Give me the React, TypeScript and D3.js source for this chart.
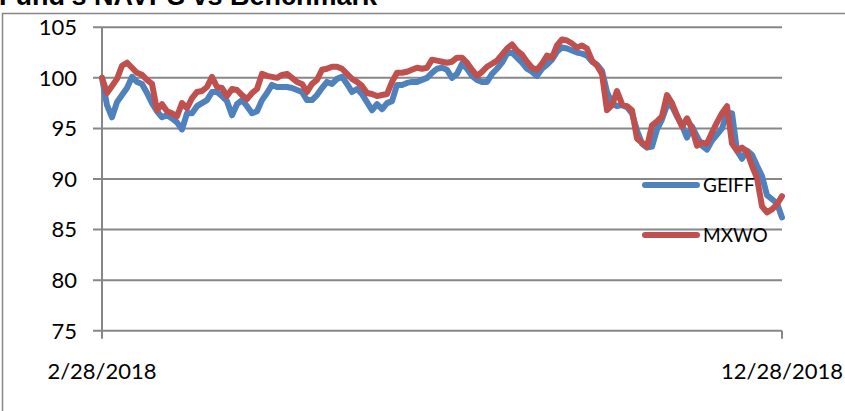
import * as d3 from 'd3'

// GEIFF NAVPS vs MXWO benchmark, rebased to 100 on 2/28/2018
const geiff = [
  100.0, 97.3, 96.1, 97.6, 98.3, 99.0, 100.1, 99.6, 99.4, 98.5,
  97.5, 96.7, 96.1, 96.3, 96.0, 95.6, 94.9, 96.5, 96.5, 97.2,
  97.5, 97.8, 98.6, 98.6, 98.2, 97.7, 96.3, 97.4, 97.8, 97.2,
  96.5, 96.7, 97.8, 98.5, 99.3, 99.1, 99.1, 99.1, 99.0, 98.8,
  98.6, 97.8, 97.8, 98.3, 99.0, 99.6, 99.4, 99.9, 100.1, 99.4,
  98.6, 98.9, 98.4, 97.6, 96.8, 97.4, 96.9, 97.5, 97.7, 99.3,
  99.3, 99.5, 99.6, 99.6, 99.8, 100.0, 100.5, 100.9, 101.0, 100.8,
  100.0, 100.4, 101.4, 100.9, 100.2, 99.8, 99.6, 99.6, 100.4, 100.9,
  101.5, 102.4, 102.5, 102.0, 101.5, 100.9, 100.6, 100.2, 100.9, 101.3,
  101.8, 102.6, 103.0, 102.9, 102.7, 102.5, 102.4, 102.2, 101.6, 101.3,
  100.7, 98.6, 97.5, 97.2, 97.3, 97.1, 96.5, 94.8, 93.5, 93.1,
  93.2, 94.9, 95.9, 97.3, 97.2, 96.2, 95.3, 94.1, 95.2, 94.2,
  93.3, 92.9, 93.8, 94.4, 95.0, 96.5, 96.5, 92.8, 92.0, 92.8,
  92.4, 91.3, 90.3, 88.4, 88.0, 87.6, 86.2,
]

const mxwo = [
  100.0, 98.5, 99.2, 99.9, 101.2, 101.5, 101.0, 100.5, 100.3, 99.8,
  99.4, 96.8, 97.4, 96.7, 96.5, 96.2, 97.5, 97.0, 98.0, 98.6,
  98.7, 99.1, 100.1, 99.1, 99.0, 98.2, 98.9, 98.8, 98.3, 97.9,
  98.5, 98.9, 100.4, 100.2, 100.1, 100.0, 100.3, 100.4, 100.0, 99.6,
  99.4, 98.6, 99.4, 99.8, 100.8, 100.9, 101.1, 101.1, 100.9, 100.4,
  99.9, 99.6, 99.2, 98.5, 98.4, 98.2, 98.3, 98.4, 99.6, 100.5,
  100.5, 100.6, 100.8, 101.0, 100.9, 101.0, 101.8, 101.7, 101.6, 101.5,
  101.6, 102.0, 102.0, 101.5, 100.8, 100.2, 100.6, 101.1, 101.4, 101.7,
  102.3, 102.9, 103.3, 102.7, 102.3, 101.6, 101.0, 100.8, 101.4, 102.2,
  102.0, 103.2, 103.8, 103.7, 103.4, 103.0, 103.2, 102.9, 101.7, 101.2,
  100.4, 96.8, 97.3, 98.7, 97.4, 97.2, 96.8, 94.0, 93.6, 93.2,
  95.3, 95.7, 96.2, 98.3, 97.5, 96.3, 95.2, 96.0, 95.0, 93.3,
  93.6, 93.5, 94.6, 95.6, 96.5, 97.2, 93.5, 92.8, 93.1, 92.7,
  91.3, 90.1, 87.3, 86.7, 87.0, 87.5, 88.3,
]

const xLabels = ['2/28/2018', '12/28/2018']
const yTicks = [75, 80, 85, 90, 95, 100, 105]
const seriesNames = ['GEIFF', 'MXWO']
const colors = ['#4F81BD', '#C0504D']

export default function App() {
  const width = 845
  const height = 411
  const left = 102
  const right = 782
  const top = 27.3
  const bottom = 330.7

  const x = d3.scaleLinear([0, geiff.length - 1], [left, right])
  const y = d3.scaleLinear([75, 105], [bottom, top])

  const line = d3
    .line<number>()
    .x((_, i) => x(i))
    .y((d) => y(d))

  const series = [geiff, mxwo]
  const grid = '#878787'

  return (
    <svg
      width={width}
      height={height}
      style={{ position: 'absolute', left: 0, top: 0, background: '#fff' }}
    >
      {/* chart border, the title above it is clipped by the page edge */}
      <rect x={2.5} y={13.5} width={width + 10} height={height + 10} fill="none" stroke={grid} strokeWidth={1.5} />
      <text x={-1} y={5} fontFamily="Liberation Sans, Arial" fontWeight="bold" fontSize={27} fill="#000">
        Fund's NAVPS vs Benchmark
      </text>

      {/* gridlines + y axis */}
      {yTicks.map((t) => (
        <g key={t}>
          <line x1={left - 9} x2={right} y1={y(t)} y2={y(t)} stroke={grid} strokeWidth={2} />
          <text
            x={77}
            y={y(t)}
            dy="0.36em"
            textAnchor="end"
            fontFamily="Lato"
            fontSize={22}
            fill="#000"
          >
            {t}
          </text>
        </g>
      ))}
      <line x1={left} x2={left} y1={top} y2={bottom + 8} stroke={grid} strokeWidth={2} />
      <line x1={right} x2={right} y1={bottom} y2={bottom + 8} stroke={grid} strokeWidth={2} />

      {xLabels.map((l, i) => (
        <text
          key={l}
          x={i === 0 ? left : right}
          y={379}
          textAnchor="middle"
          fontFamily="Lato"
          fontSize={22}
          fill="#000"
        >
          {l}
        </text>
      ))}

      {series.map((s, i) => (
        <path
          key={seriesNames[i]}
          d={line(s) ?? ''}
          fill="none"
          stroke={colors[i]}
          strokeWidth={6}
          strokeLinejoin="round"
          strokeLinecap="round"
        />
      ))}

      {/* legend */}
      {seriesNames.map((n, i) => (
        <g key={n} transform={`translate(0,${185 + i * 50})`}>
          <line x1={645} x2={697} y1={0} y2={0} stroke={colors[i]} strokeWidth={6} strokeLinecap="round" />
          <text x={703} y={0} dy="0.36em" fontFamily="Lato" fontSize={19} fill="#000">
            {n}
          </text>
        </g>
      ))}
    </svg>
  )
}
